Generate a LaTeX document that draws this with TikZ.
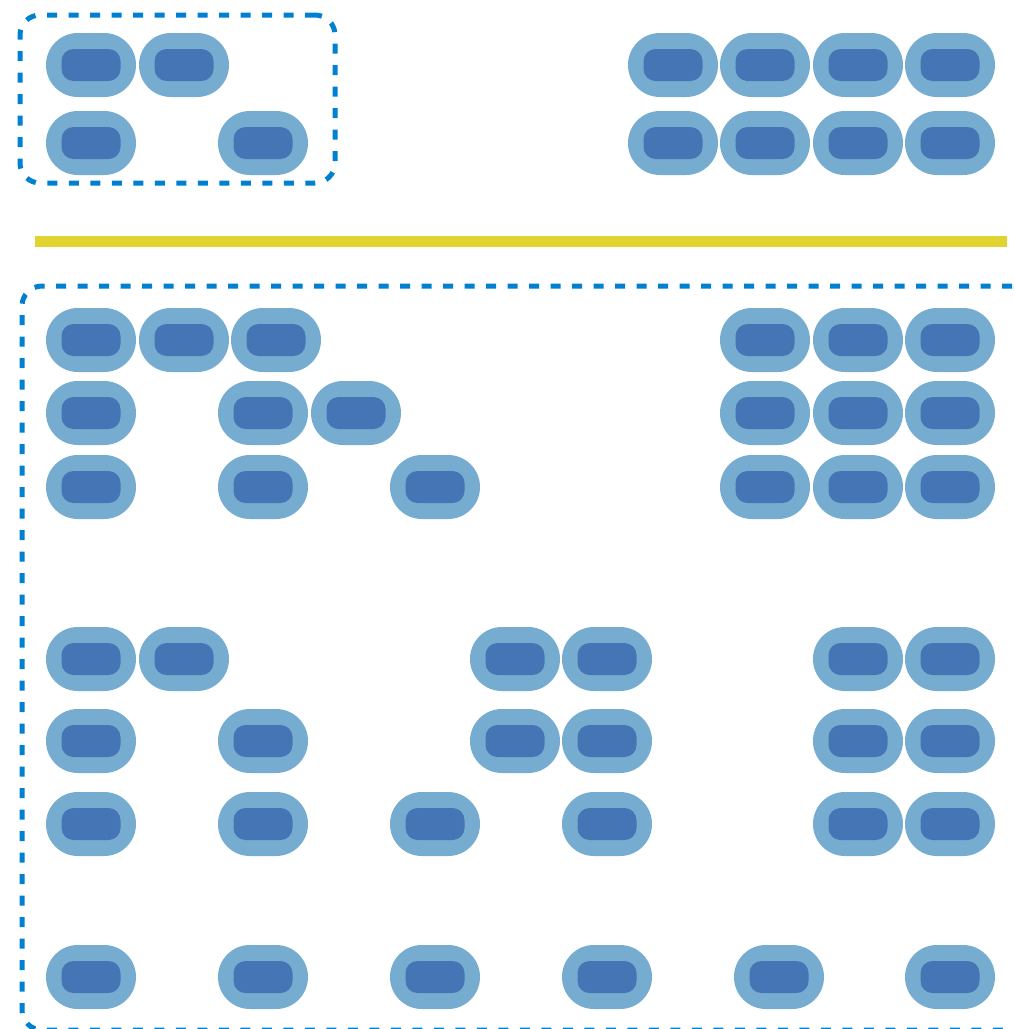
\documentclass[tikz,border=0pt]{standalone}
\definecolor{capout}{HTML}{75ACD0}
\definecolor{capin}{HTML}{4675B5}
\definecolor{dashblue}{HTML}{0080D0}
\definecolor{lineyellow}{HTML}{E1D431}
\begin{document}
\begin{tikzpicture}[x=1pt,y=-1pt,
  capsule/.style={rectangle, rounded corners=31.9pt, minimum width=90pt, minimum height=64pt,
    inner sep=0pt, fill=capout, draw=none,
    path picture={\fill[capin, rounded corners=12pt]
      ([shift={(-29.5pt,-16pt)}]path picture bounding box.center) rectangle ++(59pt,32pt);}},
  groupbox/.style={draw=dashblue, line width=5pt, dash pattern=on 10pt off 11.5pt, rounded corners=20pt},
  divider/.style={draw=lineyellow, line width=11pt}]
\useasboundingbox (0,0) rectangle (1014,1029);
\clip (0,0) rectangle (1014,1029);
% group boxes
\node[groupbox, minimum width=315pt, minimum height=168pt, inner sep=0pt] (boxA) at (177.5,99) {};
\node[groupbox, minimum width=1010pt, minimum height=744pt, inner sep=0pt] (boxB) at (527,658) {};
% divider
\coordinate (d1) at (35,241);
\coordinate (d2) at (1007,241);
\draw[divider] (d1) -- (d2);
% top-left group
\foreach \x/\y [count=\i] in {91/65,184/65,91/143,263/143}
  \node[capsule] (a\i) at (\x,\y) {};
% top-right block
\foreach \y [count=\j] in {65,143}
  \foreach \x [count=\i] in {673,765,858,950}
    \node[capsule] (b\j\i) at (\x,\y) {};
% lower group
\foreach \x/\y [count=\i] in {
  91/340,184/340,276/340,765/340,858/340,950/340,
  91/413,263/413,356/413,765/413,858/413,950/413,
  91/487,263/487,435/487,765/487,858/487,950/487,
  91/659,184/659,515/659,607/659,858/659,950/659,
  91/741,263/741,515/741,607/741,858/741,950/741,
  91/824,263/824,435/824,607/824,858/824,950/824,
  91/977,263/977,435/977,607/977,779/977,950/977}
  \node[capsule] (c\i) at (\x,\y) {};
\end{tikzpicture}
\end{document}
